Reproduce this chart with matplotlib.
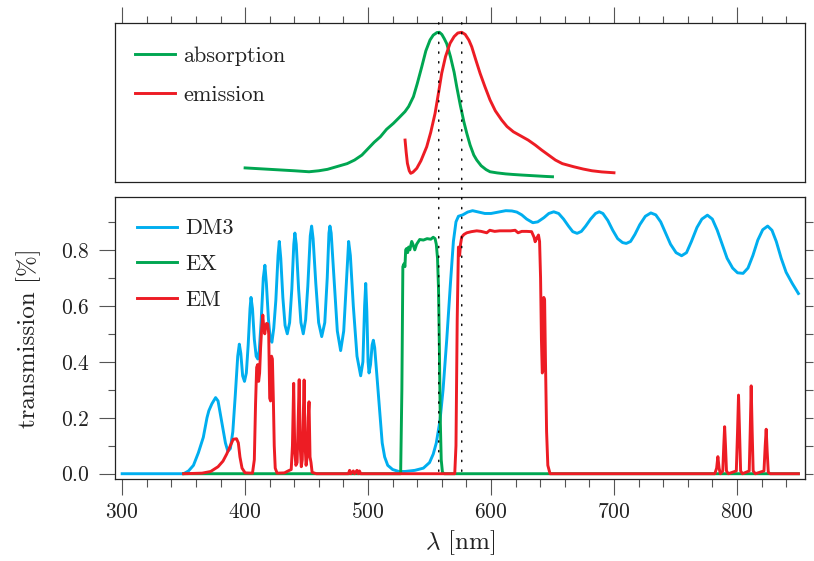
import matplotlib
matplotlib.use("Agg")
import matplotlib.pyplot as plt
from matplotlib.ticker import MultipleLocator
from matplotlib.patches import ConnectionPatch

plt.rcParams['font.family'] = ['cmr10', 'DejaVu Serif']
plt.rcParams['mathtext.fontset'] = 'cm'
plt.rcParams['axes.formatter.use_mathtext'] = True

# ---------------- data ---------------- #
abs_wl = [400, 410, 420, 430, 440, 452, 460, 467, 475, 483, 489, 495, 500, 505, 510,
          515, 520.6, 525, 530, 533, 536.9, 540, 543.7, 547, 550.4, 553, 556, 558,
          560, 562, 564, 567, 570, 572.1, 575, 578, 580.3, 583, 586, 588.4, 592, 596,
          599.2, 605, 612, 618, 625, 635, 645, 650]
abs_val = [0.05, 0.045, 0.04, 0.035, 0.03, 0.023, 0.03, 0.04, 0.06, 0.08, 0.105, 0.14,
           0.185, 0.23, 0.268, 0.32, 0.362, 0.40, 0.444, 0.48, 0.549, 0.64, 0.759, 0.87,
           0.946, 0.98, 0.998, 1.0, 0.985, 0.955, 0.92, 0.83, 0.72, 0.619, 0.49, 0.37,
           0.292, 0.21, 0.14, 0.105, 0.065, 0.038, 0.023, 0.015, 0.008, 0.004, 0.0,
           -0.005, -0.01, -0.012]

emi_wl = [530.1, 531, 532, 533.5, 534.7, 536.5, 539.6, 543, 547.7, 551, 554.5, 557,
          559.9, 563, 566.7, 570, 573, 576.2, 579, 582, 584.3, 587.5, 591.1, 595, 599.2,
          603.5, 608.7, 613, 618.2, 624, 630.2, 636, 641.2, 646, 652.4, 658, 667.3, 675,
          682.1, 690, 700]
emi_val = [0.245, 0.16, 0.082, 0.03, 0.012, 0.02, 0.047, 0.1, 0.198, 0.3, 0.432, 0.56,
           0.713, 0.83, 0.923, 0.97, 0.995, 1.0, 0.985, 0.945, 0.899, 0.81, 0.713, 0.62,
           0.526, 0.45, 0.385, 0.34, 0.303, 0.275, 0.245, 0.21, 0.175, 0.145, 0.105,
           0.08, 0.058, 0.042, 0.03, 0.022, 0.016]

dm3_wl = [300, 350, 354, 358, 362, 366, 369, 370.5, 373, 376, 378, 380, 382, 384, 386,
          388, 390, 392, 394, 395.3, 396.5, 398, 399.5, 401, 402.5, 404, 404.8, 406,
          407.5, 409, 410.3, 411.5, 413, 414.8, 416.1, 417.3, 419, 420.5, 421.8, 423.3,
          425, 426.8, 427.8, 429, 430.7, 432.5, 434.3, 436.2, 438, 439.6, 440.5, 441.6,
          443.5, 445.4, 447.3, 449.2, 451, 453, 454.1, 455.3, 457.5, 459.8, 462.3, 464.8,
          466.8, 468.2, 469, 470, 472.3, 475, 477.7, 480.2, 482.4, 484.2, 485.6, 488,
          491, 494, 495.8, 497.2, 498.1, 499, 500, 500.8, 502, 503.3, 504.3, 505.4, 507,
          508.5, 510, 511.5, 513.5, 516, 520, 525, 530, 538, 545, 550, 553, 555.5, 558.5,
          561, 564, 567, 569.4, 571.5, 573.5, 577, 581, 585, 590, 595, 600, 606, 612,
          617, 621, 625, 629, 634, 638, 643, 647, 651, 655, 659, 663, 666.5, 670, 673.5,
          677, 681, 685, 688, 691, 695, 699, 703, 707, 710, 713.5, 717, 721, 725.5, 730,
          734, 738, 742, 746, 750.5, 755, 759, 763, 767.5, 771.5, 776, 780, 784, 788,
          792, 796.5, 800.5, 805, 809, 813, 817, 821, 825, 828.5, 832, 836, 840, 845, 850]
dm3_val = [0.0, 0.0, 0.01, 0.03, 0.075, 0.13, 0.2, 0.225, 0.25, 0.272, 0.26, 0.21, 0.16,
           0.11, 0.08, 0.09, 0.15, 0.28, 0.42, 0.463, 0.43, 0.35, 0.33, 0.36, 0.46, 0.59,
           0.63, 0.59, 0.48, 0.42, 0.41, 0.44, 0.54, 0.70, 0.745, 0.68, 0.55, 0.48, 0.47,
           0.52, 0.62, 0.78, 0.83, 0.77, 0.63, 0.53, 0.50, 0.54, 0.66, 0.82, 0.86, 0.82,
           0.66, 0.54, 0.50, 0.55, 0.67, 0.85, 0.885, 0.84, 0.68, 0.54, 0.49, 0.54, 0.70,
           0.86, 0.885, 0.86, 0.70, 0.51, 0.44, 0.51, 0.69, 0.83, 0.78, 0.60, 0.42, 0.35,
           0.40, 0.60, 0.68, 0.58, 0.40, 0.36, 0.39, 0.46, 0.477, 0.45, 0.36, 0.28, 0.19,
           0.11, 0.06, 0.03, 0.015, 0.008, 0.008, 0.012, 0.02, 0.04, 0.07, 0.11, 0.19,
           0.30, 0.48, 0.68, 0.83, 0.90, 0.92, 0.925, 0.935, 0.94, 0.935, 0.93, 0.93,
           0.935, 0.94, 0.939, 0.935, 0.925, 0.91, 0.897, 0.90, 0.915, 0.93, 0.936, 0.93,
           0.91, 0.885, 0.865, 0.859, 0.866, 0.885, 0.91, 0.93, 0.936, 0.93, 0.905, 0.87,
           0.84, 0.826, 0.823, 0.83, 0.855, 0.89, 0.92, 0.932, 0.925, 0.9, 0.86, 0.82,
           0.79, 0.779, 0.79, 0.83, 0.88, 0.91, 0.924, 0.91, 0.87, 0.82, 0.77, 0.735,
           0.718, 0.716, 0.735, 0.78, 0.835, 0.872, 0.885, 0.87, 0.83, 0.77, 0.72, 0.68,
           0.644]

ex_wl = [350, 526.5, 527.5, 528.3, 529.2, 530, 530.6, 531.4, 532.2, 533, 534, 535.5,
         536.5, 538, 539.5, 542, 545, 548, 551, 553, 554.5, 555.5, 556.5, 557.3, 558,
         558.7, 559.5, 560.5, 562, 850]
ex_val = [0.0, 0.0, 0.3, 0.74, 0.75, 0.74, 0.80, 0.805, 0.79, 0.81, 0.80, 0.83, 0.82,
          0.80, 0.82, 0.837, 0.835, 0.84, 0.838, 0.845, 0.84, 0.82, 0.77, 0.66, 0.45,
          0.2, 0.05, 0.005, 0.0, 0.0]

em_wl = [350, 365, 372, 378, 382, 385, 388, 390.3, 393, 394.5, 395.8, 397.5, 400, 406,
         407.5, 408.5, 409.4, 410.2, 411, 411.8, 412.6, 413.5, 414.4, 415.2, 416, 416.8,
         417.5, 418.4, 419.2, 420, 420.7, 421.5, 422.2, 423, 423.7, 424.5, 426, 432,
         435, 437.5, 438.5, 439.5, 440.4, 441.3, 442.3, 443.2, 444, 444.8, 445.7, 446.5,
         447.3, 448, 448.8, 449.6, 450.5, 451.3, 452, 452.8, 453.6, 454.5, 458, 484,
         485, 486, 488, 489, 491, 492, 493, 494, 570.5, 571.5, 572.5, 573.5, 574.5,
         575.2, 576.2, 578, 580.3, 584, 588.4, 592, 596.5, 599, 603, 607, 612, 616,
         619.6, 622, 625, 629, 633, 635, 635.9, 637, 638.6, 639.5, 640.3, 641, 641.7,
         642.3, 642.9, 643.6, 644.3, 645.2, 646.2, 648, 782, 783.5, 784.5, 785.5, 786.5,
         788.5, 789.3, 790, 790.7, 791.5, 793, 799.5, 800.5, 801.3, 802.1, 803, 804.5,
         810, 810.8, 811.6, 812.4, 813.2, 815, 822, 823, 823.8, 824.6, 825.5, 827, 850]
em_val = [0.0, 0.002, 0.008, 0.025, 0.045, 0.07, 0.1, 0.123, 0.125, 0.11, 0.06, 0.02,
          0.003, 0.002, 0.05, 0.25, 0.38, 0.39, 0.33, 0.36, 0.45, 0.52, 0.567, 0.52,
          0.50, 0.53, 0.537, 0.535, 0.5, 0.27, 0.26, 0.42, 0.41, 0.26, 0.1, 0.02, 0.002,
          0.003, 0.01, 0.015, 0.1, 0.323, 0.08, 0.03, 0.04, 0.2, 0.336, 0.1, 0.025, 0.05,
          0.2, 0.335, 0.1, 0.03, 0.06, 0.2, 0.257, 0.06, 0.04, 0.005, 0.0, 0.0, 0.012,
          0.0, 0.01, 0.0, 0.012, 0.0, 0.01, 0.0, 0.0, 0.1, 0.55, 0.81, 0.78, 0.82, 0.846,
          0.855, 0.861, 0.865, 0.868, 0.866, 0.861, 0.87, 0.866, 0.868, 0.868, 0.868,
          0.87, 0.861, 0.866, 0.866, 0.865, 0.845, 0.829, 0.84, 0.853, 0.83, 0.7, 0.48,
          0.36, 0.37, 0.63, 0.62, 0.4, 0.15, 0.03, 0.0, 0.0, 0.02, 0.061, 0.02, 0.0,
          0.01, 0.1, 0.168, 0.1, 0.01, 0.0, 0.01, 0.15, 0.281, 0.15, 0.01, 0.0, 0.01,
          0.15, 0.314, 0.15, 0.01, 0.0, 0.01, 0.1, 0.159, 0.08, 0.005, 0.0, 0.0]

peak_abs = 557.5
peak_emi = 576.2

BLUE = '#00aeef'
GREEN = '#00a651'
RED = '#ed1c24'
TXT = '#222222'

fig = plt.figure(figsize=(8.14, 5.61), dpi=100)
ax1 = fig.add_axes([0.1416, 0.675, 0.8477, 0.2845])
ax2 = fig.add_axes([0.1416, 0.1456, 0.8477, 0.5038])

# ----------------------- top panel: dye spectra ----------------------- #
ax1.plot(abs_wl, abs_val, color=GREEN, lw=2.1, label='absorption')
ax1.plot(emi_wl, emi_val, color=RED, lw=2.1, label='emission')
ax1.set_xlim(294.4, 855.6)
ax1.set_ylim(-0.051, 1.067)
ax1.xaxis.set_major_locator(MultipleLocator(100))
ax1.xaxis.set_minor_locator(MultipleLocator(20))
ax1.tick_params(axis='x', which='both', top=True, bottom=False, labeltop=False,
                labelbottom=False, direction='out', color='#555555')
ax1.tick_params(axis='x', which='major', length=11.5, width=0.8)
ax1.tick_params(axis='x', which='minor', length=5.4, width=0.8)
ax1.set_yticks([])
ax1.legend(loc='upper left', bbox_to_anchor=(0.0, 0.975), frameon=False, fontsize=16,
           handlelength=1.8, handletextpad=0.35, labelspacing=0.87, borderaxespad=0.5,
           labelcolor=TXT)

# --------------------- bottom panel: filter set ---------------------- #
ax2.plot(dm3_wl, dm3_val, color=BLUE, lw=2.1, label='DM3')
ax2.plot(ex_wl, ex_val, color=GREEN, lw=2.1, label='EX')
ax2.plot(em_wl, em_val, color=RED, lw=2.1, label='EM')
ax2.set_xlim(294.4, 855.6)
ax2.set_ylim(-0.02, 0.99)
ax2.xaxis.set_major_locator(MultipleLocator(100))
ax2.xaxis.set_minor_locator(MultipleLocator(20))
ax2.yaxis.set_major_locator(MultipleLocator(0.2))
ax2.yaxis.set_minor_locator(MultipleLocator(0.1))
ax2.tick_params(which='both', direction='out', color='#555555', width=0.8,
                labelsize=15.5, labelcolor=TXT)
ax2.tick_params(which='major', length=11.5, pad=5)
ax2.tick_params(which='minor', length=5.4)
ax2.tick_params(axis='y', which='major', pad=7)

# right-hand ticks are all short
sec = ax2.secondary_yaxis('right')
sec.yaxis.set_major_locator(MultipleLocator(0.1))
sec.tick_params(which='major', direction='out', length=5.4, width=0.8, color='#555555',
                labelright=False)

ax2.set_xlabel(r'$\lambda$ [nm]', fontsize=18, color=TXT, labelpad=4)
ax2.set_ylabel('transmission [%]', fontsize=18, color=TXT, labelpad=14)
ax2.legend(loc='upper left', frameon=False, fontsize=16, handlelength=1.8,
           handletextpad=0.35, labelspacing=0.72, borderaxespad=0.6, labelcolor=TXT)

for ax in (ax1, ax2):
    for s in ax.spines.values():
        s.set_linewidth(0.9)
        s.set_color('#222222')

# dotted markers at the absorption / emission maxima spanning both panels
for wl in (peak_abs, peak_emi):
    con = ConnectionPatch(xyA=(wl, 1.067), coordsA=ax1.transData,
                          xyB=(wl, 0.0), coordsB=ax2.transData,
                          linestyle=(0, (1, 6)), color='black', lw=1.0, zorder=5)
    fig.add_artist(con)

fig.savefig('out.png', dpi=100)
